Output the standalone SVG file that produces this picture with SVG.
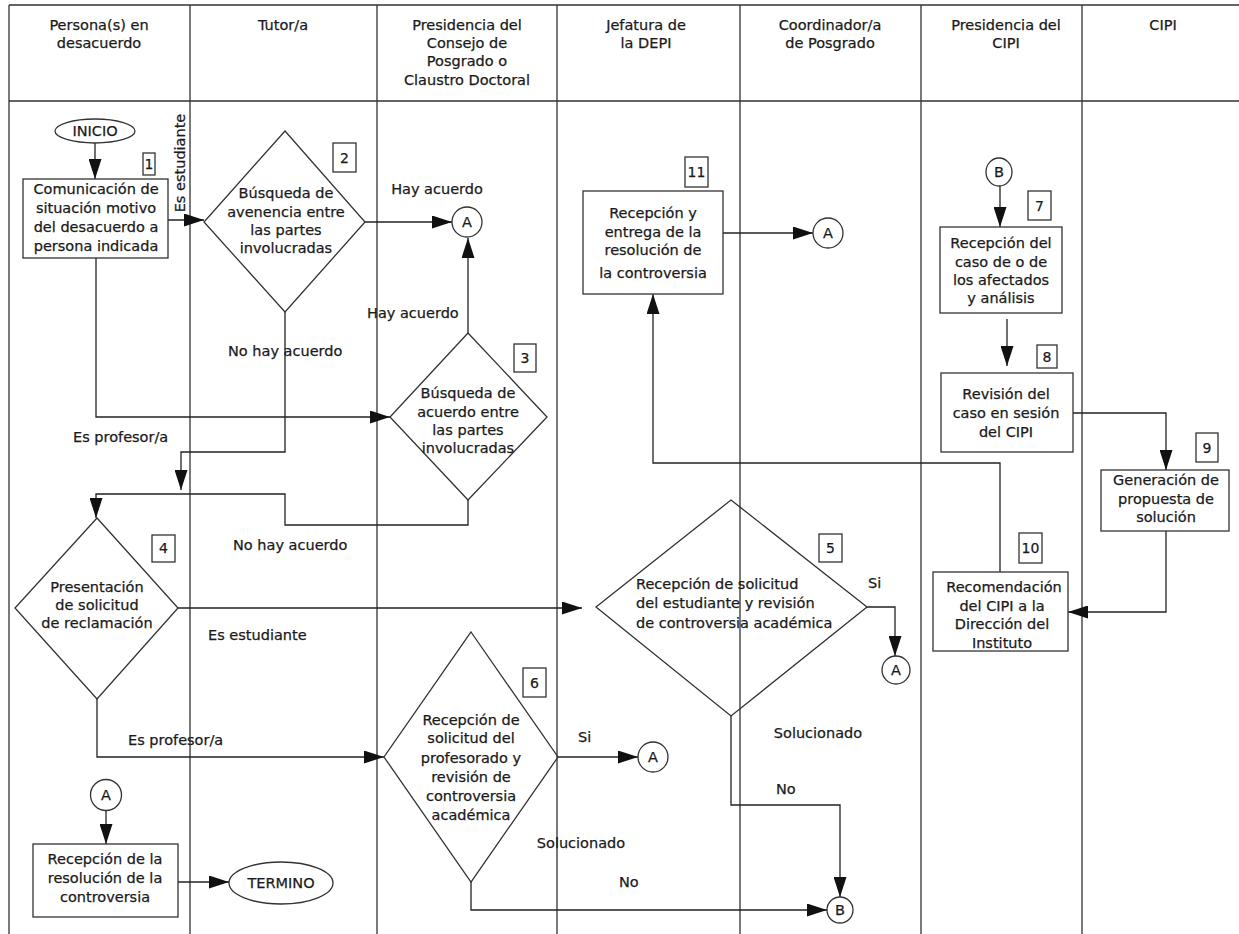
<svg xmlns="http://www.w3.org/2000/svg" width="1239" height="934" viewBox="0 0 1239 934">
<style>
text{font-family:"DejaVu Sans","Liberation Sans",sans-serif;font-size:14.5px;fill:#1a1a1a;stroke:#1a1a1a;stroke-width:0.25}
.c{text-anchor:middle}
.grid{stroke:#333;stroke-width:1.3;fill:none}
.sh{stroke:#333;stroke-width:1.3;fill:none}
.ln{stroke:#222;stroke-width:1.3;fill:none}
.ar{stroke:#222;stroke-width:1.3;fill:none;marker-end:url(#ah)}
.num{font-size:14px}
</style>
<defs>
<marker id="ah" markerUnits="userSpaceOnUse" markerWidth="20" markerHeight="13" refX="20" refY="6.5" orient="auto">
<path d="M0,0 L20,6.5 L0,13 z" fill="#111"/>
</marker>
</defs>
<rect width="1239" height="934" fill="#fff"/>
<g id="lanes">
<path class="grid" d="M9,5 H1239 M9,101 H1239 M9,5 V934 M190,5 V934 M377,5 V934 M557,5 V934 M740,5 V934 M921,5 V934 M1082,5 V934"/>
<text class="c" x="99" y="30">Persona(s) en</text>
<text class="c" x="99" y="48">desacuerdo</text>
<text class="c" x="283" y="30">Tutor/a</text>
<text class="c" x="467" y="30">Presidencia del</text>
<text class="c" x="467" y="48">Consejo de</text>
<text class="c" x="467" y="66">Posgrado o</text>
<text class="c" x="467" y="85">Claustro Doctoral</text>
<text class="c" x="646" y="30">Jefatura de</text>
<text class="c" x="646" y="48">la DEPI</text>
<text class="c" x="830" y="30">Coordinador/a</text>
<text class="c" x="830" y="48">de Posgrado</text>
<text class="c" x="1006" y="30">Presidencia del</text>
<text class="c" x="1006" y="48">CIPI</text>
<text class="c" x="1163" y="30">CIPI</text>
</g>
<g id="connectors">
<path class="ar" d="M95,143 V179"/>
<path class="ar" d="M168,220 H204"/>
<path class="ar" d="M365,222 H452"/>
<path class="ar" d="M468,333 V238"/>
<path class="ar" d="M96,258 V417 H390"/>
<path class="ar" d="M285,312 V452 H181 V490"/>
<path class="ar" d="M468,500 V525 H285 V494 H96 V518"/>
<path class="ar" d="M178,608 H582"/>
<path class="ar" d="M867,607 H895 V656"/>
<path class="ar" d="M97,699 V757 H384"/>
<path class="ar" d="M558,757 H638"/>
<path class="ar" d="M731,716 V805 H840 V897"/>
<path class="ar" d="M471,882 V910 H827"/>
<path class="ar" d="M106,811 V844"/>
<path class="ar" d="M178,882 H229"/>
<path class="ar" d="M723,233 H813"/>
<path class="ar" d="M1000,572 V463 H653 V294"/>
<path class="ar" d="M1000,186 V227"/>
<path class="ar" d="M1007,319 V366"/>
<path class="ar" d="M1073,413 H1166 V470"/>
<path class="ar" d="M1166,531 V612 H1068"/>
<text x="185" y="163" class="c" transform="rotate(-90 185 163)">Es estudiante</text>
<text class="c" x="437" y="194">Hay acuerdo</text>
<text x="367" y="318">Hay acuerdo</text>
<text x="228" y="356">No hay acuerdo</text>
<text x="73" y="442">Es profesor/a</text>
<text x="233" y="550">No hay acuerdo</text>
<text x="208" y="640">Es estudiante</text>
<text x="128" y="745">Es profesor/a</text>
<text x="868" y="588">Si</text>
<text x="578" y="742">Si</text>
<text class="c" x="818" y="738">Solucionado</text>
<text x="776" y="794">No</text>
<text class="c" x="581" y="848">Solucionado</text>
<text x="619" y="887">No</text>
</g>
<g id="inicio">
<ellipse class="sh" cx="95" cy="131" rx="40" ry="12"/>
<text class="c" x="95" y="136">INICIO</text>
</g>
<g id="n1">
<rect class="sh" x="23" y="179" width="145" height="79"/>
<text class="c" x="96" y="194">Comunicación de</text>
<text class="c" x="96" y="213">situación motivo</text>
<text class="c" x="96" y="232">del desacuerdo a</text>
<text class="c" x="96" y="251">persona indicada</text>
<rect class="sh" x="143" y="153" width="12" height="22"/>
<text class="c num" x="149" y="169">1</text>
</g>
<g id="n2">
<polygon class="sh" points="285,131 365,222 285,312 204,222"/>
<text class="c" x="286" y="198">Búsqueda de</text>
<text class="c" x="286" y="217">avenencia entre</text>
<text class="c" x="286" y="235">las partes</text>
<text class="c" x="286" y="253">involucradas</text>
<rect class="sh" x="333" y="143" width="23" height="29"/>
<text class="c num" x="344.5" y="163">2</text>
</g>
<g id="a1">
<circle class="sh" cx="467" cy="222" r="15"/>
<text class="c" x="467" y="227">A</text>
</g>
<g id="n3">
<polygon class="sh" points="468,333 547,417 468,500 390,417"/>
<text class="c" x="468" y="398">Búsqueda de</text>
<text class="c" x="468" y="417">acuerdo entre</text>
<text class="c" x="468" y="435">las partes</text>
<text class="c" x="468" y="453">involucradas</text>
<rect class="sh" x="514" y="344" width="22" height="28"/>
<text class="c num" x="525" y="363">3</text>
</g>
<g id="n4">
<polygon class="sh" points="97,518 178,608 97,699 15,608"/>
<text class="c" x="97" y="592">Presentación</text>
<text class="c" x="97" y="610">de solicitud</text>
<text class="c" x="97" y="628">de reclamación</text>
<rect class="sh" x="152" y="535" width="23" height="27"/>
<text class="c num" x="163.5" y="553">4</text>
</g>
<g id="n5">
<polygon class="sh" points="731,500 867,607 731,716 596,607"/>
<text x="636" y="589">Recepción de solicitud</text>
<text x="636" y="608">del estudiante y revisión</text>
<text x="636" y="628">de controversia académica</text>
<rect class="sh" x="819" y="534" width="23" height="28"/>
<text class="c num" x="830.5" y="553">5</text>
</g>
<g id="a2">
<circle class="sh" cx="896" cy="670" r="14"/>
<text class="c" x="896" y="675">A</text>
</g>
<g id="n6">
<polygon class="sh" points="471,632 558,757 471,882 384,757"/>
<text class="c" x="471" y="725">Recepción de</text>
<text class="c" x="471" y="743">solicitud del</text>
<text class="c" x="471" y="763">profesorado y</text>
<text class="c" x="471" y="782">revisión de</text>
<text class="c" x="471" y="801">controversia</text>
<text class="c" x="471" y="820">académica</text>
<rect class="sh" x="523" y="668" width="23" height="29"/>
<text class="c num" x="534.5" y="688">6</text>
</g>
<g id="a3">
<circle class="sh" cx="653" cy="757" r="15"/>
<text class="c" x="653" y="762">A</text>
</g>
<g id="b1">
<circle class="sh" cx="840" cy="910" r="13"/>
<text class="c" x="840" y="915">B</text>
</g>
<g id="a4">
<circle class="sh" cx="106" cy="795" r="15.5"/>
<text class="c" x="106" y="800">A</text>
</g>
<g id="n12">
<rect class="sh" x="33" y="844" width="145" height="73"/>
<text class="c" x="105" y="864">Recepción de la</text>
<text class="c" x="105" y="883">resolución de la</text>
<text class="c" x="105" y="902">controversia</text>
</g>
<g id="termino">
<ellipse class="sh" cx="281" cy="883" rx="52" ry="21"/>
<text class="c" x="281" y="888">TERMINO</text>
</g>
<g id="n11">
<rect class="sh" x="583" y="191" width="140" height="103"/>
<text class="c" x="653" y="218">Recepción y</text>
<text class="c" x="653" y="237">entrega de la</text>
<text class="c" x="653" y="255">resolución de</text>
<text class="c" x="653" y="278">la controversia</text>
<rect class="sh" x="685" y="157" width="23" height="30"/>
<text class="c num" x="696.5" y="177">11</text>
</g>
<g id="a5">
<circle class="sh" cx="828" cy="233" r="15"/>
<text class="c" x="828" y="238">A</text>
</g>
<g id="b2">
<ellipse class="sh" cx="999" cy="172" rx="13" ry="14"/>
<text class="c" x="999" y="177">B</text>
</g>
<g id="n7">
<rect class="sh" x="940" y="227" width="122" height="86"/>
<text class="c" x="1001" y="248">Recepción del</text>
<text class="c" x="1001" y="267">caso de o de</text>
<text class="c" x="1001" y="285">los afectados</text>
<text class="c" x="1001" y="303">y análisis</text>
<rect class="sh" x="1028" y="191" width="23" height="29"/>
<text class="c num" x="1039.5" y="211">7</text>
</g>
<g id="n8">
<rect class="sh" x="941" y="373" width="132" height="79"/>
<text class="c" x="1006" y="399">Revisión del</text>
<text class="c" x="1006" y="418">caso en sesión</text>
<text class="c" x="1006" y="437">del CIPI</text>
<rect class="sh" x="1037" y="345" width="20" height="23"/>
<text class="c num" x="1047" y="362">8</text>
</g>
<g id="n9">
<rect class="sh" x="1101" y="470" width="128" height="61"/>
<text class="c" x="1166" y="485">Generación de</text>
<text class="c" x="1166" y="504">propuesta de</text>
<text class="c" x="1166" y="522">solución</text>
<rect class="sh" x="1196" y="433" width="22" height="29"/>
<text class="c num" x="1207" y="453">9</text>
</g>
<g id="n10">
<rect class="sh" x="933" y="572" width="135" height="79"/>
<text class="c" x="1004" y="592">Recomendación</text>
<text class="c" x="1002" y="611">del CIPI a la</text>
<text class="c" x="1002" y="629">Dirección del</text>
<text class="c" x="1002" y="648">Instituto</text>
<rect class="sh" x="1019" y="533" width="23" height="30"/>
<text class="c num" x="1030.5" y="553">10</text>
</g>
</svg>
